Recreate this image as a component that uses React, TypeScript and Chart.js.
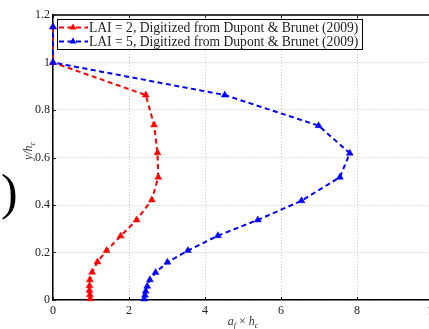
import React, { useEffect, useRef } from "react";
import { Chart, registerables } from "chart.js";

Chart.register(...registerables);

// Leaf-area density profiles (a_f × h_c) versus normalized height y/h_c
const lai2X = [0.98, 0.97, 0.96, 0.96, 0.97, 1.03, 1.17, 1.41, 1.78, 2.2, 2.6, 2.77, 2.75, 2.66, 2.44, 0, 0];
const lai2Y = [0.005, 0.022, 0.04, 0.06, 0.085, 0.117, 0.16, 0.208, 0.269, 0.337, 0.421, 0.517, 0.62, 0.737, 0.863, 1.0, 1.15];

const lai5X = [2.4, 2.42, 2.44, 2.48, 2.55, 2.7, 3.01, 3.55, 4.34, 5.39, 6.54, 7.55, 7.81, 6.99, 4.52, 0, 0];
const lai5Y = [0.004, 0.02, 0.037, 0.058, 0.085, 0.116, 0.159, 0.208, 0.271, 0.337, 0.418, 0.517, 0.618, 0.734, 0.863, 1.0, 1.15];

const seriesLabels = [
  "LAI = 2, Digitized from Dupont & Brunet (2009)",
  "LAI = 5, Digitized from Dupont & Brunet (2009)",
];
const seriesColors = ["#ff0000", "#0000ff"];

const xTicks = [0, 2, 4, 6, 8, 10];
const yTicks = [0, 0.2, 0.4, 0.6, 0.8, 1, 1.2];

const SERIF = "'Liberation Serif', 'Times New Roman', serif";
const DASH = [5, 3.5];

function triangle(ctx: CanvasRenderingContext2D, x: number, y: number, r: number) {
  ctx.beginPath();
  for (let k = 0; k < 3; k++) {
    const a = (k * 2 * Math.PI) / 3;
    const px = x + Math.sin(a) * r;
    const py = y - Math.cos(a) * r;
    if (k === 0) ctx.moveTo(px, py);
    else ctx.lineTo(px, py);
  }
  ctx.closePath();
  ctx.fill();
}

// Frame, inward tick marks, axis titles, in-plot legend and the side bracket
const decorations = {
  id: "decorations",
  beforeDatasetsDraw(chart: any) {
    const { ctx, chartArea: a, scales } = chart;
    ctx.save();
    ctx.strokeStyle = "#000";
    ctx.lineWidth = 1.5;
    ctx.beginPath();
    ctx.moveTo(a.left, a.top);
    ctx.lineTo(a.right, a.top);
    ctx.stroke();
    ctx.strokeStyle = "#222";
    ctx.lineWidth = 1;
    ctx.beginPath();
    for (const v of xTicks) {
      const px = Math.round(scales.x.getPixelForValue(v)) + 0.5;
      ctx.moveTo(px, a.bottom);
      ctx.lineTo(px, a.bottom - 3);
      ctx.moveTo(px, a.top);
      ctx.lineTo(px, a.top + 3);
    }
    for (const v of yTicks) {
      const py = Math.round(scales.y.getPixelForValue(v)) + 0.5;
      ctx.moveTo(a.left, py);
      ctx.lineTo(a.left + 3, py);
    }
    ctx.stroke();
    ctx.restore();
  },
  afterDraw(chart: any) {
    const { ctx, chartArea: a } = chart;
    ctx.save();

    // x-axis title: a_f × h_c
    ctx.fillStyle = "#333";
    ctx.textBaseline = "alphabetic";
    const cx = (a.left + a.right) / 2;
    const parts: [string, string, number][] = [
      ["a", "italic 12px " + SERIF, 0],
      ["f", "italic 8px " + SERIF, 3],
      [" × ", "12px " + SERIF, 0],
      ["h", "italic 12px " + SERIF, 0],
      ["c", "italic 8px " + SERIF, 3],
    ];
    let total = 0;
    for (const [t, f] of parts) {
      ctx.font = f;
      total += ctx.measureText(t).width;
    }
    let x0 = cx - total / 2;
    for (const [t, f, dy] of parts) {
      ctx.font = f;
      ctx.fillText(t, x0, 325 + dy);
      x0 += ctx.measureText(t).width;
    }

    // y-axis title: y/h_c
    ctx.translate(28, 151);
    ctx.rotate(-Math.PI / 2);
    const yparts: [string, string, number][] = [
      ["y/h", "italic 12px " + SERIF, 0],
      ["c", "italic 8px " + SERIF, 3],
    ];
    total = 0;
    for (const [t, f] of yparts) {
      ctx.font = f;
      total += ctx.measureText(t).width;
    }
    x0 = -total / 2;
    for (const [t, f, dy] of yparts) {
      ctx.font = f;
      ctx.fillText(t, x0, 4 + dy);
      x0 += ctx.measureText(t).width;
    }
    ctx.setTransform(1, 0, 0, 1, 0, 0);

    // legend box
    const lx = 57, ly = 19, lw = 305, lh = 30;
    ctx.fillStyle = "#fff";
    ctx.fillRect(lx, ly, lw, lh);
    ctx.strokeStyle = "#000";
    ctx.lineWidth = 1;
    ctx.strokeRect(lx + 0.5, ly + 0.5, lw, lh);
    seriesLabels.forEach((label, i) => {
      const ry = 27.5 + i * 14;
      ctx.strokeStyle = seriesColors[i];
      ctx.fillStyle = seriesColors[i];
      ctx.lineWidth = 2;
      ctx.setLineDash(DASH);
      ctx.beginPath();
      ctx.moveTo(59, ry);
      ctx.lineTo(88, ry);
      ctx.stroke();
      ctx.setLineDash([]);
      triangle(ctx, 73, ry, 4);
      ctx.fillStyle = "#222";
      ctx.font = "13.6px " + SERIF;
      ctx.textBaseline = "middle";
      ctx.fillText(label, 89, ry + 0.5);
    });

    // bracket belonging to the neighbouring panel label
    ctx.fillStyle = "#000";
    ctx.font = "50px " + SERIF;
    ctx.textBaseline = "middle";
    ctx.fillText(")", 1, 196);
    ctx.restore();
  },
};

export default function App() {
  const canvasRef = useRef<HTMLCanvasElement | null>(null);

  useEffect(() => {
    const canvas = canvasRef.current;
    if (!canvas) return;
    const makeSeries = (xs: number[], ys: number[], i: number, order: number) => ({
      label: seriesLabels[i],
      data: xs.map((x, k) => ({ x, y: ys[k] })),
      borderColor: seriesColors[i],
      backgroundColor: seriesColors[i],
      pointBackgroundColor: seriesColors[i],
      pointBorderColor: seriesColors[i],
      borderWidth: 2,
      borderDash: DASH,
      pointStyle: "triangle",
      pointRadius: 4,
      pointBorderWidth: 0.5,
      showLine: true,
      fill: false,
      tension: 0,
      clip: false,
      order,
    });

    const chart = new Chart(canvas, {
      type: "scatter",
      data: {
        datasets: [makeSeries(lai2X, lai2Y, 0, 1), makeSeries(lai5X, lai5Y, 1, 0)] as any,
      },
      plugins: [decorations],
      options: {
        responsive: false,
        animation: false,
        devicePixelRatio: 1,
        layout: { autoPadding: false, padding: { left: 0, top: 15, right: 27, bottom: 0 } } as any,
        plugins: { legend: { display: false }, tooltip: { enabled: false } },
        scales: {
          x: {
            type: "linear",
            min: 0,
            max: 10,
            afterBuildTicks: (s: any) => {
              s.ticks = xTicks.map((v) => ({ value: v }));
            },
            afterFit: (s: any) => {
              s.height = 29;
            },
            ticks: {
              color: "#222",
              font: { family: SERIF, size: 12 },
              padding: 4,
              maxRotation: 0,
            },
            grid: { color: "#c4c4c4", lineWidth: 1, drawTicks: false },
            border: { display: true, color: "#000", width: 1.5, dash: [1, 2] },
          },
          y: {
            type: "linear",
            min: 0,
            max: 1.2,
            afterBuildTicks: (s: any) => {
              s.ticks = yTicks.map((v) => ({ value: v }));
            },
            afterFit: (s: any) => {
              s.width = 53;
            },
            ticks: {
              color: "#222",
              font: { family: SERIF, size: 12 },
              padding: 3,
              callback: (v: any) => String(Math.round(Number(v) * 10) / 10),
            },
            grid: { color: "#c4c4c4", lineWidth: 1, drawTicks: false },
            border: { display: true, color: "#000", width: 1.5, dash: [1, 2] },
          },
        },
      } as any,
    });
    return () => chart.destroy();
  }, []);

  return (
    <div
      style={{
        position: "absolute",
        left: 0,
        top: 0,
        width: 429,
        height: 329,
        overflow: "hidden",
        background: "#fff",
      }}
    >
      <canvas ref={canvasRef} width={460} height={329} style={{ display: "block", width: 460, height: 329 }} />
    </div>
  );
}
